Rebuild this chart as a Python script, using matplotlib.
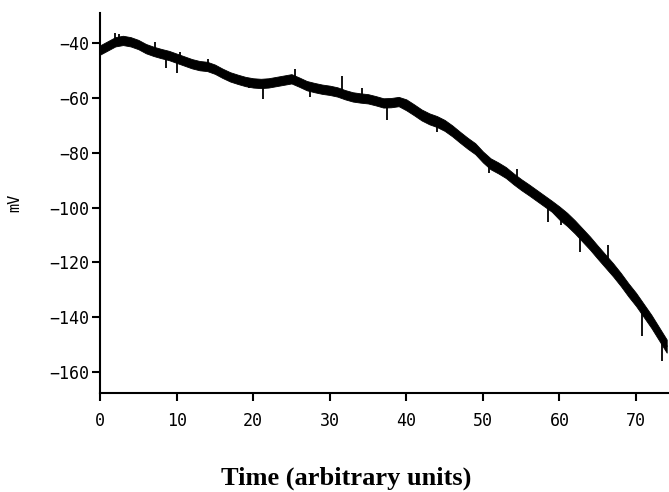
import numpy as np
import matplotlib
matplotlib.use('Agg')
import matplotlib.pyplot as plt

# membrane potential trace (centre of the noisy band)
time_pts = [0, 1, 2, 3, 4, 5, 6, 7, 8, 9, 10, 11, 12, 13, 14, 15, 16, 17, 18, 19,
            20, 21, 22, 23, 24, 25, 26, 27, 28, 29, 30, 31, 32, 33, 34, 35, 36, 37, 38, 39,
            40, 41, 42, 43, 44, 45, 46, 47, 48, 49, 50, 51, 52, 53, 54, 55, 56, 57, 58, 59,
            60, 61, 62, 63, 64, 65, 66, 67, 68, 69, 70, 71, 72, 73, 74]
mv_centre = [-42.5, -41, -39.5, -39, -39.5, -40.5, -42, -43, -43.8, -44.5,
             -45.5, -46.5, -47.5, -48.2, -48.5, -49.5, -51, -52.3, -53.2, -54,
             -54.5, -54.7, -54.5, -54, -53.5, -53, -54.2, -55.5, -56.2, -56.8,
             -57.2, -57.8, -58.8, -59.6, -60, -60.3, -61, -61.8, -61.7, -61.3,
             -62.5, -64.3, -66.2, -67.6, -68.6, -70, -72, -74.3, -76.5, -78.5,
             -81.5, -84, -85.5, -87.2, -89.5, -91.6, -93.5, -95.5, -97.5, -99.5,
             -102, -104.3, -107, -110, -113, -116.3, -119.5, -122.7, -126.2, -130,
             -133.5, -137.5, -141.5, -146, -150.5]
# half thickness of the noise band (mV)
band_half = [1.7] * 40 + [2.0] * 20 + [2.4] * 15

# isolated spikes that stick out of the band
spike_t = [1.9, 2.5, 7.2, 8.6, 10.1, 10.5, 14.1, 19.4, 21.3, 25.5, 27.4, 31.6,
           34.2, 37.5, 44.0, 50.8, 54.5, 58.5, 60.2, 62.7, 66.3, 70.8, 73.4]
spike_mv = [-36.2, -36.5, -39.5, -49, -51, -43.2, -45.8, -56.4, -60.4, -49.6, -59.5, -52,
            -56.5, -68, -72.5, -87.5, -86.0, -105.3, -106.5, -116, -113.5, -147, -156]
spike_base = [-40, -39.2, -42.8, -43.9, -45.4, -45.9, -48.6, -54, -54.7, -53, -55.5, -57.8,
              -60, -61.8, -68.6, -83.3, -89.5, -98.5, -102.5, -108.5, -120.5, -135.5, -147]

x_ticks = [0, 10, 20, 30, 40, 50, 60, 70]
y_ticks = [-40, -60, -80, -100, -120, -140, -160]

t = np.array(time_pts, dtype=float)
v = np.array(mv_centre)
hw = np.array(band_half)

fig = plt.figure(figsize=(6.69, 4.92), dpi=100)
ax = fig.add_axes([100 / 669, 1 - 392.7 / 492, 569 / 669, (392.7 - 13) / 492])

ax.fill_between(t, v - hw, v + hw, color='black', lw=0.6)
ax.plot(t, v, color='black', lw=1.2)
ax.vlines(spike_t, spike_base, spike_mv, color='black', lw=1.3)

ax.set_xlim(0, 74.3)
ax.set_ylim(-167.5, -29)
ax.set_xticks(x_ticks)
ax.set_yticks(y_ticks)

for side in ['top', 'right']:
    ax.spines[side].set_visible(False)
for side in ['left', 'bottom']:
    ax.spines[side].set_linewidth(1.5)
    ax.spines[side].set_color('black')

ax.tick_params(axis='both', direction='out', length=6, width=1.5, colors='black')
ax.tick_params(axis='x', pad=8)
ax.tick_params(axis='y', pad=2)
for lab in ax.get_xticklabels() + ax.get_yticklabels():
    lab.set_fontfamily('DejaVu Sans Mono')
    lab.set_fontsize(12)

fig.text(15 / 669, 1 - 203 / 492, 'mV', rotation=90, ha='center', va='center',
         family='DejaVu Sans Mono', fontsize=11)
fig.text(346.5 / 669, 1 - 485 / 492, 'Time (arbitrary units)', ha='center', va='baseline',
         family='Liberation Serif', fontweight='bold', fontsize=19)

fig.savefig('out.png', dpi=100)
